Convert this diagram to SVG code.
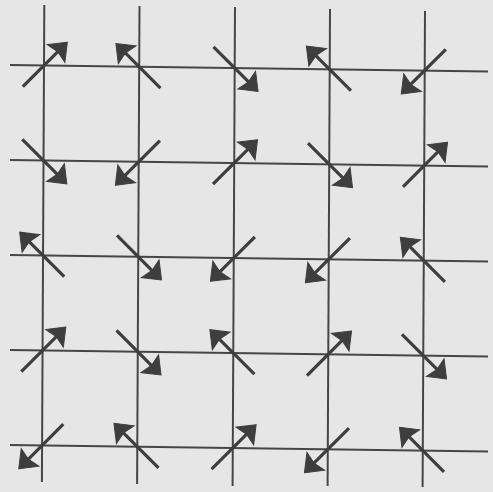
<svg xmlns="http://www.w3.org/2000/svg" xmlns:xlink="http://www.w3.org/1999/xlink" width="493" height="492" viewBox="0 0 493 492">
  <defs>
    <style>
      .grid { stroke: #464646; stroke-width: 2; fill: none; stroke-linecap: butt; }
      .shaft { stroke: #3e3e3e; stroke-width: 3.2; fill: none; }
      .head { fill: #3e3e3e; stroke: #3e3e3e; stroke-width: 1; stroke-linejoin: miter; }
    </style>
    <g id="arr">
      <line class="shaft" x1="-30" y1="0" x2="20" y2="0"/>
      <polygon class="head" points="33,0 17,-12.5 19.5,0 17,12.5"/>
    </g>
  </defs>
  <rect width="493" height="492" fill="#e6e6e6"/>
  <g id="grid">
    <line class="grid" x1="10" y1="65" x2="488" y2="71.5"/>
    <line class="grid" x1="10" y1="160" x2="488" y2="166.5"/>
    <line class="grid" x1="10" y1="255" x2="488" y2="261.5"/>
    <line class="grid" x1="10" y1="350" x2="488" y2="356.5"/>
    <line class="grid" x1="10" y1="445" x2="488" y2="451.5"/>
    <line class="grid" x1="44.3" y1="5" x2="41.9" y2="482"/>
    <line class="grid" x1="139.5" y1="6" x2="137.1" y2="484"/>
    <line class="grid" x1="235" y1="7" x2="232.6" y2="486"/>
    <line class="grid" x1="330" y1="9" x2="327.6" y2="486"/>
    <line class="grid" x1="425" y1="11" x2="422.6" y2="487"/>
  </g>
  <g id="arrows">
    <g id="r1">
      <use xlink:href="#arr" transform="translate(44,65.5) rotate(-45)"/>
      <use xlink:href="#arr" transform="translate(139.2,66.8) rotate(-135)"/>
      <use xlink:href="#arr" transform="translate(234.7,68.1) rotate(45)"/>
      <use xlink:href="#arr" transform="translate(329.7,69.4) rotate(-135)"/>
      <use xlink:href="#arr" transform="translate(424.6,70.6) rotate(135)"/>
    </g>
    <g id="r2">
      <use xlink:href="#arr" transform="translate(43.5,160.5) rotate(45)"/>
      <use xlink:href="#arr" transform="translate(138.7,161.8) rotate(135)"/>
      <use xlink:href="#arr" transform="translate(234.2,163) rotate(-45)"/>
      <use xlink:href="#arr" transform="translate(329.2,164.3) rotate(45)"/>
      <use xlink:href="#arr" transform="translate(424.2,165.6) rotate(-45)"/>
    </g>
    <g id="r3">
      <use xlink:href="#arr" transform="translate(43,255.5) rotate(-135)"/>
      <use xlink:href="#arr" transform="translate(138.2,256.7) rotate(45)"/>
      <use xlink:href="#arr" transform="translate(233.7,258) rotate(135)"/>
      <use xlink:href="#arr" transform="translate(328.7,259.3) rotate(135)"/>
      <use xlink:href="#arr" transform="translate(423.7,260.6) rotate(-135)"/>
    </g>
    <g id="r4">
      <use xlink:href="#arr" transform="translate(42.5,350.4) rotate(-45)"/>
      <use xlink:href="#arr" transform="translate(137.7,351.7) rotate(45)"/>
      <use xlink:href="#arr" transform="translate(233.2,353) rotate(-135)"/>
      <use xlink:href="#arr" transform="translate(328.2,354.3) rotate(-45)"/>
      <use xlink:href="#arr" transform="translate(423.2,355.6) rotate(45)"/>
    </g>
    <g id="r5">
      <use xlink:href="#arr" transform="translate(42.1,445.4) rotate(135)"/>
      <use xlink:href="#arr" transform="translate(137.3,446.7) rotate(-135)"/>
      <use xlink:href="#arr" transform="translate(232.8,448) rotate(-45)"/>
      <use xlink:href="#arr" transform="translate(327.8,449.3) rotate(135)"/>
      <use xlink:href="#arr" transform="translate(422.8,450.6) rotate(-135)"/>
    </g>
  </g>
</svg>
